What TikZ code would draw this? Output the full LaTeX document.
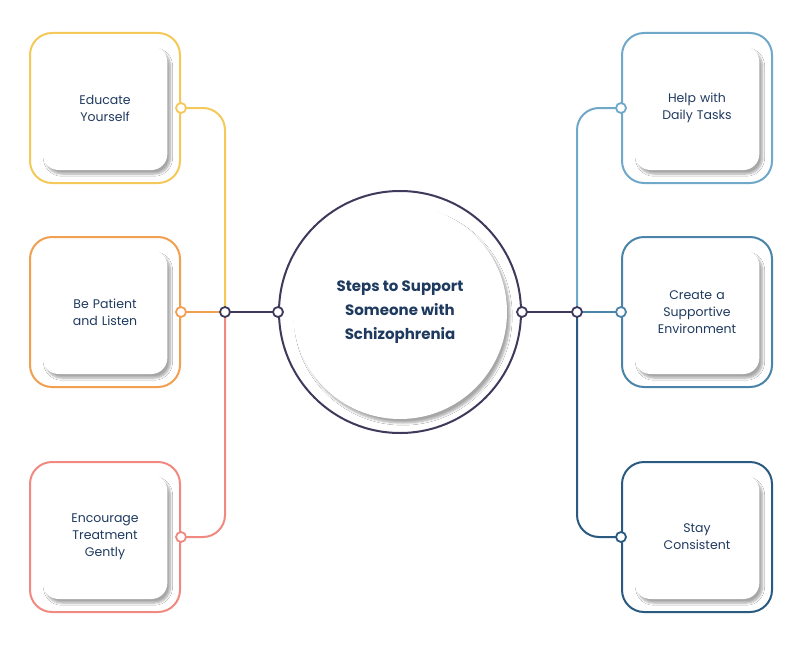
\documentclass[tikz,border=0pt]{standalone}
\usepackage{fontspec}
\setmainfont{Poppins}
\usetikzlibrary{shadows.blur}
\definecolor{cy}{HTML}{F5C85A}
\definecolor{co}{HTML}{F0A050}
\definecolor{cs}{HTML}{F08A80}
\definecolor{cl}{HTML}{6FA8C8}
\definecolor{cm}{HTML}{4A84A8}
\definecolor{cd}{HTML}{2A5A80}
\definecolor{cp}{HTML}{3D3A5C}
\definecolor{tx}{HTML}{1F3A5F}
\tikzset{
  outer/.style={draw=#1, line width=2pt, rounded corners=22pt, minimum width=150pt, minimum height=150pt, fill=white},
  card/.style={fill=white, rounded corners=16pt, minimum width=124pt, minimum height=124pt, blur shadow={shadow xshift=3pt, shadow yshift=-4pt, shadow blur steps=8, shadow opacity=35},
    text=tx, font=\fontsize{12.5}{17}\selectfont, align=center, text width=118pt},
  dot/.style={circle, draw=#1, fill=white, line width=1.8pt, inner sep=0pt, minimum size=10pt},
  wire/.style={draw=#1, line width=2pt, rounded corners=22pt}
}
\begin{document}
\begin{tikzpicture}[x=1pt,y=-1pt]
\useasboundingbox (0,0) rectangle (799,650);
% boxes
\foreach \n/\x/\y/\c/\t in {a/105/108/cy/{Educate\\Yourself\\[20pt]},b/105/312/co/{Be Patient\\and Listen},c/105/537/cs/{Encourage\\Treatment\\Gently},
  d/697/108/cl/{Help with\\Daily Tasks\\[20pt]},e/697/312/cm/{Create a\\Supportive\\Environment},f/697/537/cd/{Stay\\Consistent}}{
  \node[outer=\c] (o\n) at (\x,\y) {};
  \node[card] (i\n) at (\x,\y) {\t};
}
% center
\node[circle, draw=cp, line width=2pt, minimum size=242pt, fill=white] (hub) at (400,312) {};
\node[circle, fill=white, minimum size=214pt, blur shadow={shadow xshift=3pt, shadow yshift=-4pt, shadow blur steps=8, shadow opacity=35}, text=tx, align=center, font=\bfseries\fontsize{15}{24}\selectfont] (ht) at (400,312) {Steps to Support\\Someone with\\Schizophrenia};
% coordinates
\coordinate (jl) at (225,312);
\coordinate (jr) at (577,312);
\coordinate (pa) at (oa.east |- 0,108);
\coordinate (pc) at (oc.east |- 0,537);
\coordinate (pd) at (od.west |- 0,108);
\coordinate (pf) at (of.west |- 0,537);
% wires
\draw[wire=cy] (pa) -| (jl);
\draw[wire=cs] (pc) -| (jl);
\draw[wire=co] (ob.east) -- (jl);
\draw[wire=cl] (pd) -| (jr);
\draw[wire=cd] (pf) -| (jr);
\draw[wire=cm] (oe.west) -- (jr);
\draw[wire=cp] (jl) -- (hub.west);
\draw[wire=cp] (jr) -- (hub.east);
% dots
\node[dot=cy] (da) at (pa) {};
\node[dot=co] (db) at (ob.east) {};
\node[dot=cs] (dc) at (pc) {};
\node[dot=cl] (dd) at (pd) {};
\node[dot=cm] (de) at (oe.west) {};
\node[dot=cd] (df) at (pf) {};
\node[dot=cp] (dl) at (jl) {};
\node[dot=cp] (dr) at (jr) {};
\node[dot=cp] (hl) at (hub.west) {};
\node[dot=cp] (hr) at (hub.east) {};
\end{tikzpicture}
\end{document}
